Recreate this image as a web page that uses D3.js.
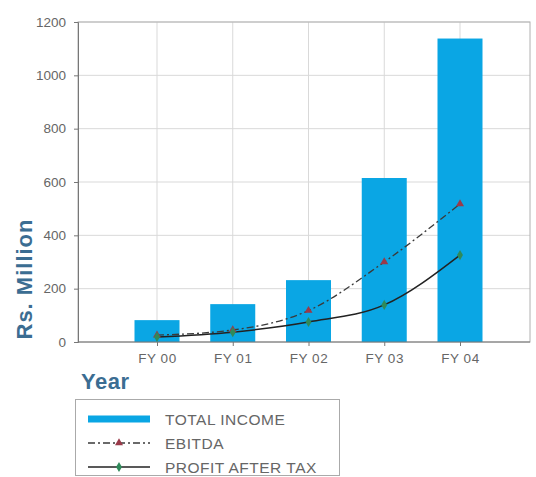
<!DOCTYPE html>
<html>
<head>
<meta charset="utf-8">
<script src="https://cdn.jsdelivr.net/npm/d3@7"></script>
<style>
  html, body { margin: 0; padding: 0; background: #fff; }
  svg { display: block; font-family: Arial, "Liberation Sans", sans-serif; }
</style>
</head>
<body>
<svg id="chart" width="536" height="477"></svg>
<script>
// Yearly figures, Rs. Million
const years = ["FY 00", "FY 01", "FY 02", "FY 03", "FY 04"];
const totalIncome = [82, 142, 232, 615, 1138];
const ebitda = [26, 45, 118, 300, 518];
const profitAfterTax = [19, 37, 75, 139, 326];
const yTicks = [0, 200, 400, 600, 800, 1000, 1200];
const legendLabels = ["TOTAL INCOME", "EBITDA", "PROFIT AFTER TAX"];

const svg = d3.select("#chart");
const plot = { left: 78, right: 530, top: 22, bottom: 342 };

const x = d3.scalePoint().domain(years).range([plot.left + 79, plot.right - 70]);
const y = d3.scaleLinear().domain([0, 1200]).range([plot.bottom, plot.top]);
const barWidth = 45;

const barColor = "#0aa6e4";
const titleColor = "#3b6d92";
const labelColor = "#666";

// grid
const grid = svg.append("g");
grid.selectAll("line.h").data(yTicks.slice(1)).join("line")
  .attr("x1", plot.left).attr("x2", plot.right)
  .attr("y1", d => y(d)).attr("y2", d => y(d))
  .attr("stroke", "#d9d9d9").attr("stroke-width", 1);
grid.selectAll("line.v").data(years).join("line")
  .attr("x1", d => x(d)).attr("x2", d => x(d))
  .attr("y1", plot.top).attr("y2", plot.bottom)
  .attr("stroke", "#d9d9d9").attr("stroke-width", 1);

// frame
svg.append("rect")
  .attr("x", plot.left).attr("y", plot.top)
  .attr("width", plot.right - plot.left).attr("height", plot.bottom - plot.top)
  .attr("fill", "none").attr("stroke", "#b0b0b0");

// bars
svg.append("g").selectAll("rect").data(years).join("rect")
  .attr("x", d => x(d) - barWidth / 2)
  .attr("y", (d, i) => y(totalIncome[i]))
  .attr("width", barWidth)
  .attr("height", (d, i) => y(0) - y(totalIncome[i]))
  .attr("fill", barColor);

// axes
const yAxis = svg.append("g")
  .attr("transform", `translate(${plot.left},0)`)
  .call(d3.axisLeft(y).tickValues(yTicks).tickSize(4).tickPadding(8).tickFormat(d3.format("d")));
yAxis.select(".domain").attr("stroke", "#777");
yAxis.selectAll(".tick line").attr("stroke", "#777");
yAxis.selectAll("text").attr("fill", labelColor).style("font-size", "13.5px");

const xAxis = svg.append("g")
  .attr("transform", `translate(0,${plot.bottom})`)
  .call(d3.axisBottom(x).tickSize(4).tickPadding(7).tickSizeOuter(0));
xAxis.select(".domain").attr("stroke", "#777").attr("d", `M${plot.left},0H${plot.right}`);
xAxis.selectAll(".tick line").attr("stroke", "#777");
xAxis.selectAll("text").attr("fill", labelColor).style("font-size", "13.5px")
  .style("letter-spacing", "0.5px");

// lines
const line = d3.line()
  .x((d, i) => x(years[i]))
  .y(d => y(d))
  .curve(d3.curveMonotoneX);

svg.append("path").datum(ebitda)
  .attr("d", line).attr("fill", "none")
  .attr("stroke", "#3a3a3a").attr("stroke-width", 1.3)
  .attr("stroke-dasharray", "7,3,2,3");
svg.append("path").datum(profitAfterTax)
  .attr("d", line).attr("fill", "none")
  .attr("stroke", "#222").attr("stroke-width", 1.5);

const triangle = d3.symbol().type(d3.symbolTriangle).size(28);
const diamond = d3.symbol().type(d3.symbolDiamond).size(30);

svg.append("g").selectAll("path").data(ebitda).join("path")
  .attr("d", triangle)
  .attr("transform", (d, i) => `translate(${x(years[i])},${y(d)})`)
  .attr("fill", "#9a3a4a");
svg.append("g").selectAll("path").data(profitAfterTax).join("path")
  .attr("d", diamond)
  .attr("transform", (d, i) => `translate(${x(years[i])},${y(d)})`)
  .attr("fill", "#2f8a5a");

// axis titles
svg.append("text")
  .attr("transform", `translate(32,279) rotate(-90)`)
  .attr("text-anchor", "middle")
  .attr("fill", titleColor)
  .style("font-size", "22px").style("font-weight", "bold")
  .style("letter-spacing", "1px")
  .text("Rs. Million");

svg.append("text")
  .attr("x", 81).attr("y", 389)
  .attr("fill", titleColor)
  .style("font-size", "22px").style("font-weight", "bold")
  .style("letter-spacing", "0.5px")
  .text("Year");

// legend
const legend = svg.append("g");
legend.append("rect")
  .attr("x", 75.5).attr("y", 399.5).attr("width", 264).attr("height", 76)
  .attr("fill", "#fff").attr("stroke", "#aaa");

const rows = [419, 443, 467];
const sx0 = 88, sx1 = 150, tx = 165;
legend.append("rect")
  .attr("x", sx0).attr("y", rows[0] - 3.5).attr("width", sx1 - sx0).attr("height", 7)
  .attr("fill", barColor);
legend.append("line")
  .attr("x1", sx0).attr("x2", sx1).attr("y1", rows[1]).attr("y2", rows[1])
  .attr("stroke", "#3a3a3a").attr("stroke-width", 1.3).attr("stroke-dasharray", "7,3,2,3");
legend.append("path").attr("d", triangle)
  .attr("transform", `translate(${(sx0 + sx1) / 2},${rows[1]})`).attr("fill", "#9a3a4a");
legend.append("line")
  .attr("x1", sx0).attr("x2", sx1).attr("y1", rows[2]).attr("y2", rows[2])
  .attr("stroke", "#222").attr("stroke-width", 1.5);
legend.append("path").attr("d", diamond)
  .attr("transform", `translate(${(sx0 + sx1) / 2},${rows[2]})`).attr("fill", "#2f8a5a");

legend.selectAll("text.lbl").data(legendLabels).join("text")
  .attr("class", "lbl")
  .attr("x", tx).attr("y", (d, i) => rows[i] + 5.5)
  .attr("fill", labelColor)
  .style("font-size", "15.5px")
  .style("letter-spacing", "0.5px")
  .text(d => d);
</script>
</body>
</html>
